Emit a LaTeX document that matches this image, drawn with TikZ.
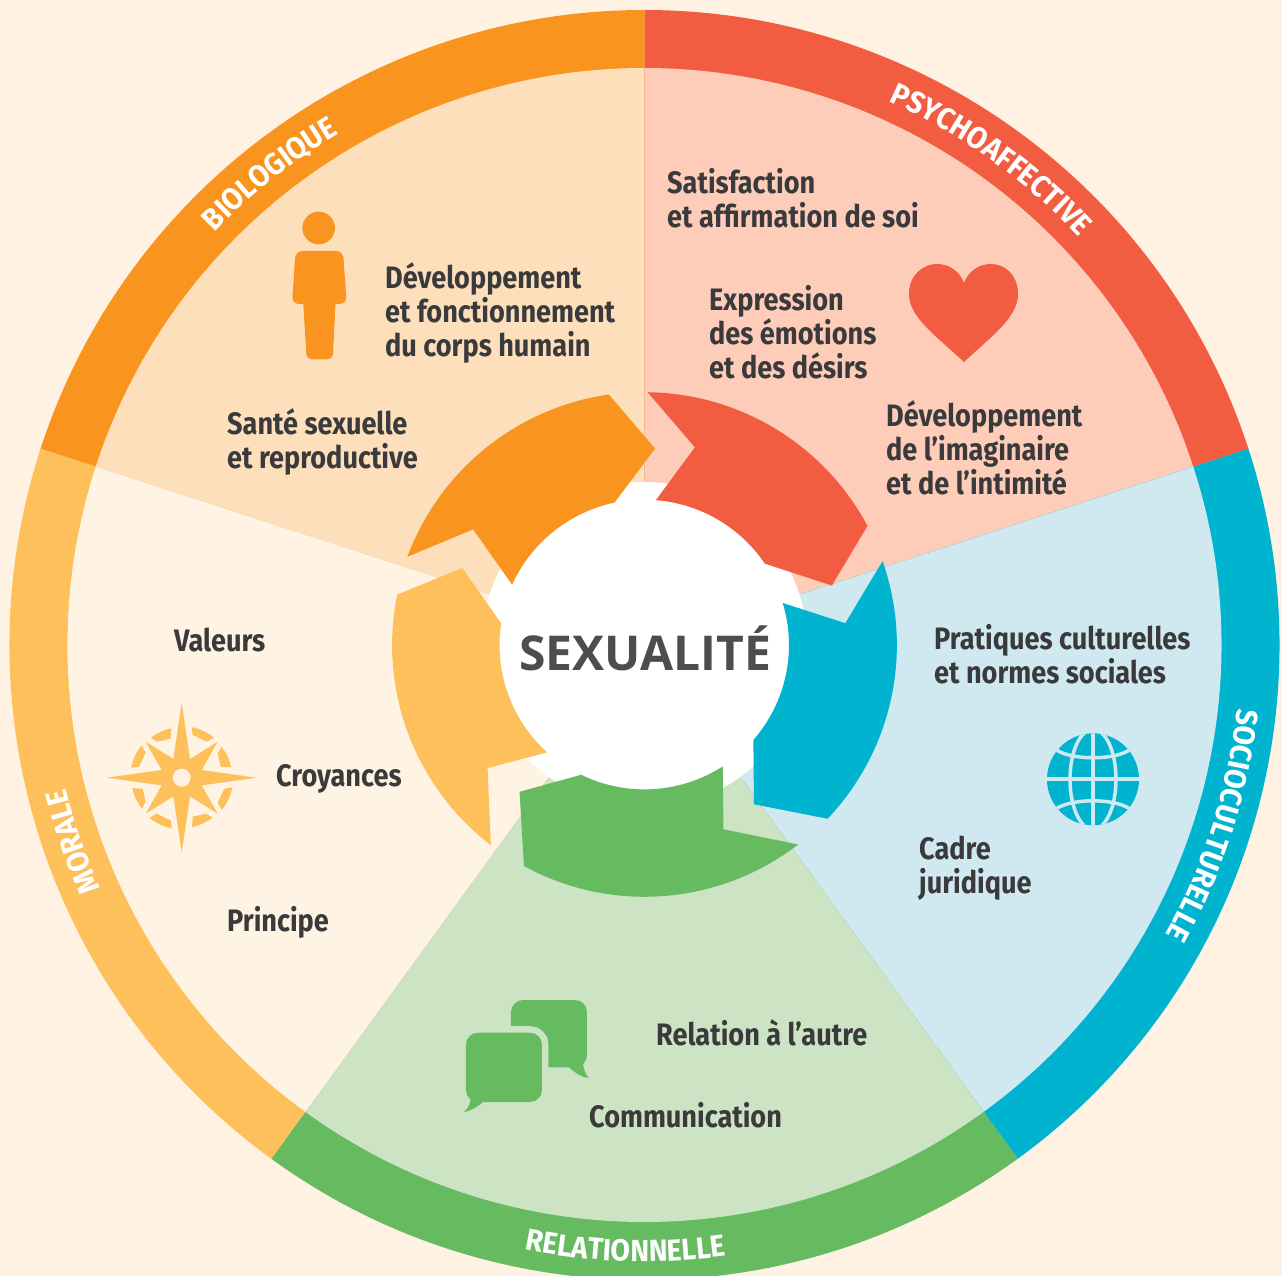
\documentclass[tikz,border=0pt]{standalone}
\usepackage{fontspec}
\usetikzlibrary{decorations.text}
\newfontfamily\bodyfont{Fira Sans}[FakeStretch=0.875]
\newfontfamily\ringfont{Fira Sans}[FakeStretch=0.93]
\newfontfamily\titlefont{Open Sans}
\definecolor{bgc}{HTML}{FFF2E2}
\definecolor{orangeS}{HTML}{F9951F}\definecolor{orangeL}{HTML}{FDDFBC}
\definecolor{redS}{HTML}{F25C41}\definecolor{redL}{HTML}{FDCDBA}
\definecolor{cyanS}{HTML}{00B4D0}\definecolor{cyanL}{HTML}{D0E8F0}
\definecolor{greenS}{HTML}{66BB60}\definecolor{greenL}{HTML}{CCE4C4}
\definecolor{yellowS}{HTML}{FEC05A}\definecolor{yellowL}{HTML}{FFF3E3}
\definecolor{ink}{HTML}{3A3A3C}
\definecolor{titleink}{HTML}{4D4D4F}
\tikzset{
  txt/.style={anchor=base west,inner sep=0pt,align=left,text=ink,
    font=\bodyfont\bfseries\fontsize{31pt}{34pt}\selectfont},
  ringtext/.style={decorate,decoration={text along path,text align=center,text={|\ringfont\bfseries\fontsize{30.5pt}{30pt}\selectfont\color{white}|#1}}}
}
\newcommand\wedgepart[4]{\fill[#1] (0,0) -- (#2:#4pt) arc[start angle=#2,end angle=#3,radius=#4pt] -- cycle;}
\begin{document}
\begin{tikzpicture}[x=1pt,y=1pt]
\useasboundingbox (-644.5pt,-631pt) rectangle (637.5pt,645pt);
\clip (-644.5pt,-631pt) rectangle (637.5pt,645pt);
\fill[bgc] (-644.5pt,-631pt) rectangle (637.5pt,645pt);
% sectors
\wedgepart{orangeS}{90}{162}{635}\wedgepart{orangeL}{90}{162}{577}
\wedgepart{redS}{18}{90}{635}\wedgepart{redL}{18}{90}{577}
\wedgepart{cyanS}{-54}{18}{635}\wedgepart{cyanL}{-54}{18}{577}
\wedgepart{greenS}{-126}{-54}{635}\wedgepart{greenL}{-126}{-54}{577}
\wedgepart{yellowS}{162}{234}{635}\wedgepart{yellowL}{162}{234}{577}
% ring labels
\path[ringtext=BIOLOGIQUE] (143.5:596pt) arc[start angle=143.5,end angle=113.5,radius=596pt];
\path[ringtext=PSYCHOAFFECTIVE] (74.5:596pt) arc[start angle=74.5,end angle=34.5,radius=596pt];
\path[ringtext=SOCIOCULTURELLE] (2.4:596pt) arc[start angle=2.4,end angle=-37.6,radius=596pt];
\path[ringtext=RELATIONNELLE] (-111.8:616.5pt) arc[start angle=-111.8,end angle=-71.8,radius=616.5pt];
\path[ringtext=MORALE] (214:596pt) arc[start angle=214,end angle=184,radius=596pt];
% centre
\fill[white] (0,0) circle[radius=163pt];
\fill[orangeS] (98.1:253pt) -- (86.9:196.7pt) -- (101.9:145.5pt) arc[start angle=101.9,end angle=155.5,radius=145.5pt] -- (146:206.8pt) -- (159.6:253pt) arc[start angle=159.6,end angle=98.1,radius=253pt] -- cycle;
\fill[redS] (89.3:252.8pt) arc[start angle=89.3,end angle=28.1,radius=252.8pt] -- (17.6:196.6pt) -- (34:145.3pt) arc[start angle=34,end angle=85.5,radius=145.3pt] -- (75.7:204pt) -- cycle;
\fill[cyanS] (19.4:252.4pt) arc[start angle=19.4,end angle=-43.5,radius=252.4pt] -- (-55.5:193.3pt) -- (-41.1:144.5pt) arc[start angle=-41.1,end angle=16.9,radius=144.5pt] -- (6.2:202pt) -- cycle;
\fill[greenS] (-52.4:251.8pt) arc[start angle=-52.4,end angle=-118.6,radius=251.8pt] -- (-130.4:192.8pt) -- (-116:144.4pt) arc[start angle=-116,end angle=-57.2,radius=144.4pt] -- (-66.8:200.5pt) -- cycle;
\fill[yellowS] (232.5:252.4pt) arc[start angle=232.5,end angle=168.5,radius=252.4pt] -- (157.1:197.9pt) -- (171.4:145pt) arc[start angle=171.4,end angle=227.8,radius=145pt] -- (218.1:199.4pt) -- cycle;
\node[anchor=base,inner sep=0pt,text=titleink,font=\titlefont\bfseries\fontsize{48pt}{48pt}\selectfont] (title) at (0.5pt,-26pt) {SEXUALITÉ};
% px coordinates
\begin{scope}[shift={(-644.5pt,645pt)},y=-1pt]
\node[txt] (t1) at (385,356.5) {Développement\\et fonctionnement\\du corps humain};
\node[txt] (t2) at (227,468.5) {Santé sexuelle\\et reproductive};
\node[txt] (t3) at (667,227.5) {Satisfaction\\et affirmation de soi};
\node[txt] (t4) at (709,378.5) {Expression\\des émotions\\et des désirs};
\node[txt] (t5) at (886,494.5) {Développement\\de l’imaginaire\\et de l’intimité};
\node[txt] (t6) at (934,683.5) {Pratiques culturelles\\et normes sociales};
\node[txt] (t7) at (919,893.5) {Cadre\\juridique};
\node[txt] (t8) at (656,1045) {Relation à l’autre};
\node[txt] (t9) at (589,1127) {Communication};
\node[txt] (t10) at (174,651.5) {Valeurs};
\node[txt] (t11) at (276,786.5) {Croyances};
\node[txt] (t12) at (227,931) {Principe};
% person
\fill[orangeS] (318.7,228) circle[radius=16.3pt];
\fill[orangeS,rounded corners=7pt] (295.5,251) -- (343,251) -- (346.7,304) -- (292,304) -- cycle;
\fill[orangeS,rounded corners=5pt] (302.7,295) -- (336,295) -- (332.7,359.3) -- (306.7,359.3) -- cycle;
% heart
\fill[redS] (964,362) .. controls (935,335) and (909,317) .. (909,294) .. controls (909,275) and (923,264) .. (937,264) .. controls (950,264) and (960,272) .. (964,283) .. controls (968,272) and (978,264) .. (991,264) .. controls (1005,264) and (1018,275) .. (1018,294) .. controls (1018,317) and (993,335) .. (964,362) -- cycle;
% bubbles
\fill[greenS,rounded corners=12pt] (511,1000) -- (587,1000) -- (587,1067.3) -- (511,1067.3) -- cycle;
\fill[greenS] (582.7,1058) .. controls (583,1068) and (585,1074) .. (588.7,1078) .. controls (581,1077) and (575,1073) .. (569,1067.3) -- cycle;
\path[fill=greenS,draw=greenL,line width=13pt,rounded corners=12pt] (466,1032.7) -- (542,1032.7) -- (542,1102) -- (466,1102) -- cycle;
\fill[greenS,rounded corners=12pt] (466,1032.7) -- (542,1032.7) -- (542,1102) -- (466,1102) -- cycle;
\fill[greenS] (470.7,1094) .. controls (471,1102) and (469,1108) .. (464,1112) .. controls (471,1111) and (477,1107) .. (483,1102) -- cycle;
\end{scope}
% compass
\begin{scope}[shift={(-462.8pt,-132.7pt)}]
\foreach \q in {0,90,180,270}{
  \begin{scope}[rotate=\q]
  \fill[yellowS] (78.9:51.5pt) arc[start angle=78.9,end angle=51.1,radius=51.5pt] -- (25pt,36pt) -- (11pt,42.7pt) -- cycle;
  \fill[yellowS] (37.8:50.5pt) arc[start angle=37.8,end angle=11.9,radius=50.5pt] -- (39pt,11pt) -- (36pt,24.3pt) -- cycle;
  \end{scope}
}
\fill[yellowS] (0pt,75pt) -- (8.3pt,18.7pt) -- (36pt,36pt) -- (20pt,7.7pt) -- (75pt,0pt) -- (20pt,-7.7pt) -- (36pt,-36pt) -- (8.3pt,-18.7pt) -- (0pt,-75pt) -- (-8.3pt,-18.7pt) -- (-36pt,-36pt) -- (-20pt,-7.7pt) -- (-75pt,0pt) -- (-20pt,7.7pt) -- (-36pt,36pt) -- (-8.3pt,18.7pt) -- cycle;
\fill[bgc] (0,0) circle[radius=9pt];
\end{scope}
% globe
\begin{scope}[shift={(448.5pt,-134.3pt)}]
\fill[cyanS] (0,0) circle[radius=46pt];
\clip (0,0) circle[radius=46pt];
\draw[cyanL,line width=4pt] (0,-50pt) -- (0,50pt);
\draw[cyanL,line width=4pt] (-50pt,0) -- (50pt,0);
\draw[cyanL,line width=3.5pt] (0,0) ellipse[x radius=23pt,y radius=50pt];
\draw[cyanL,line width=3.5pt] (-36pt,29pt) .. controls (-20pt,19pt) and (20pt,19pt) .. (36pt,29pt);
\draw[cyanL,line width=3.5pt] (-36pt,-29pt) .. controls (-20pt,-19pt) and (20pt,-19pt) .. (36pt,-29pt);
\end{scope}
\end{tikzpicture}
\end{document}
